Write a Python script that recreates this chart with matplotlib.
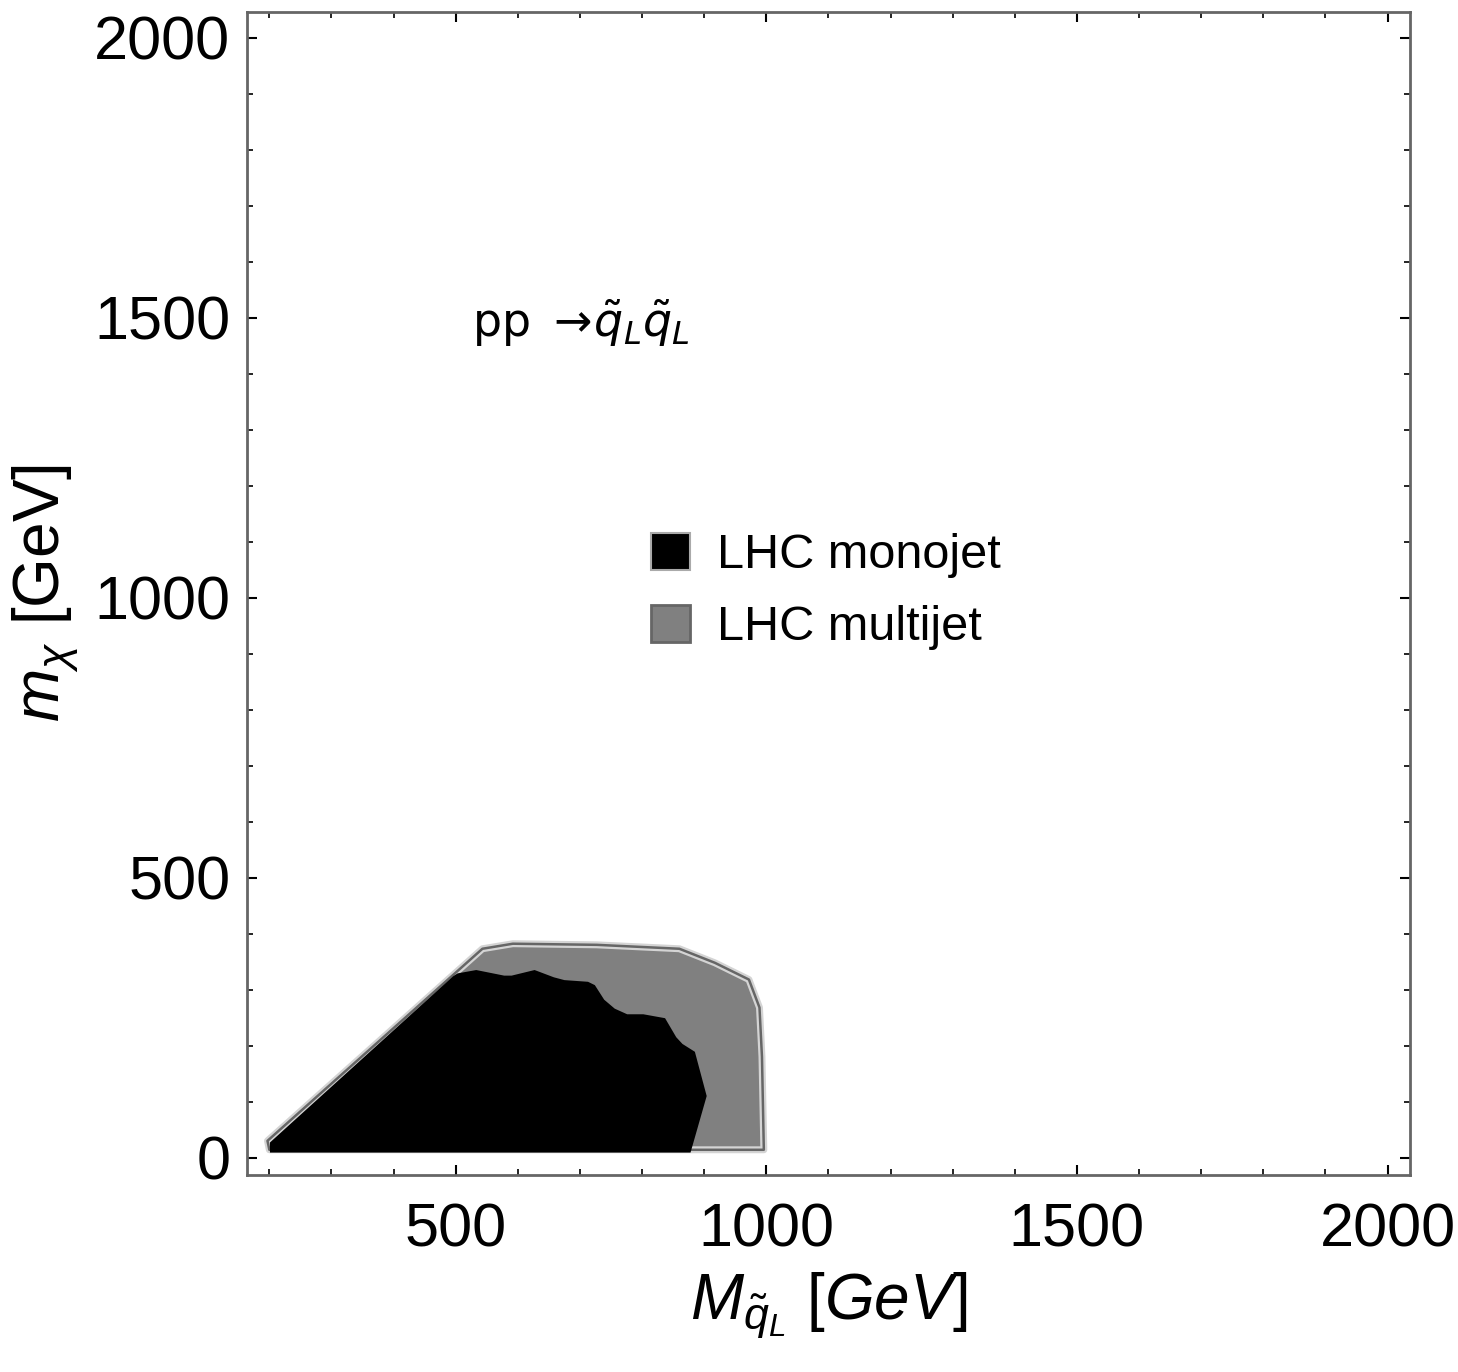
import matplotlib
matplotlib.use("Agg")
import matplotlib.pyplot as plt
from matplotlib.patches import Polygon, Patch
from matplotlib.ticker import MultipleLocator

plt.rcParams['font.family'] = ['Liberation Sans', 'DejaVu Sans']
plt.rcParams['mathtext.fontset'] = 'custom'
plt.rcParams['mathtext.rm'] = 'Liberation Sans'
plt.rcParams['mathtext.it'] = 'Liberation Sans:italic'

# excluded regions (squark mass, DM mass) in GeV
multijet_x = [197, 543, 592, 727, 860, 917, 972, 989, 993, 996, 200]
multijet_y = [30, 373, 382, 380, 373, 348, 318, 268, 180, 14, 14]

monojet_x = [201, 201, 496, 503, 533, 578, 590, 627, 658, 675, 713, 724, 739, 756,
             776, 802, 837, 855, 865, 885, 904, 878]
monojet_y = [9, 27, 324, 329, 335, 325, 325, 335, 322, 317, 314, 308, 282, 266,
             256, 256, 249, 215, 203, 189, 110, 9]

labels = ["LHC monojet", "LHC multijet"]

fig = plt.figure(figsize=(14.58, 13.72), dpi=100)
ax = fig.add_axes([0.1694, 0.1436, 0.7976, 0.8477])

# multijet: gray fill with light halo + darker edge
ax.add_patch(Polygon(list(zip(multijet_x, multijet_y)), closed=True,
                     facecolor='#808080', edgecolor='#d4d4d4', linewidth=5, joinstyle='round'))
ax.add_patch(Polygon(list(zip(multijet_x, multijet_y)), closed=True,
                     facecolor='none', edgecolor='#666666', linewidth=1.8, joinstyle='round'))
ax.add_patch(Polygon(list(zip(monojet_x, monojet_y)), closed=True,
                     facecolor='black', edgecolor='none'))

ax.set_xlim(164, 2036)
ax.set_ylim(-31, 2046)

ax.xaxis.set_major_locator(MultipleLocator(500))
ax.xaxis.set_minor_locator(MultipleLocator(100))
ax.yaxis.set_major_locator(MultipleLocator(500))
ax.yaxis.set_minor_locator(MultipleLocator(100))
ax.tick_params(which='both', direction='in', top=True, right=True, color='black')
ax.tick_params(which='major', length=7, width=1.5, labelsize=44, pad=20)
ax.tick_params(which='minor', length=4, width=1.2)
ax.tick_params(axis='y', which='major', pad=12)
for s in ax.spines.values():
    s.set_color('#666666')
    s.set_linewidth(2)

ax.set_xlabel(r"$M_{\tilde{q}_L}$ $[GeV]$", fontsize=46, labelpad=8)
ax.set_ylabel(r"$m_{\chi}$ [GeV]", fontsize=46, labelpad=10)

ax.text(526, 1490, r"pp $\rightarrow\!\tilde{q}_L\tilde{q}_L$", fontsize=33,
        ha='left', va='center', family='DejaVu Sans', math_fontfamily='dejavusans')

handles = [Patch(facecolor='black', edgecolor='#aaaaaa', linewidth=1.5),
           Patch(facecolor='#808080', edgecolor='#666666', linewidth=2)]
ax.legend(handles, labels, loc='upper left', bbox_to_anchor=(0.31, 0.59),
          frameon=False, fontsize=35, handlelength=0.8, handleheight=0.8,
          handletextpad=0.55, labelspacing=0.55)

fig.savefig("out.png", dpi=100)
